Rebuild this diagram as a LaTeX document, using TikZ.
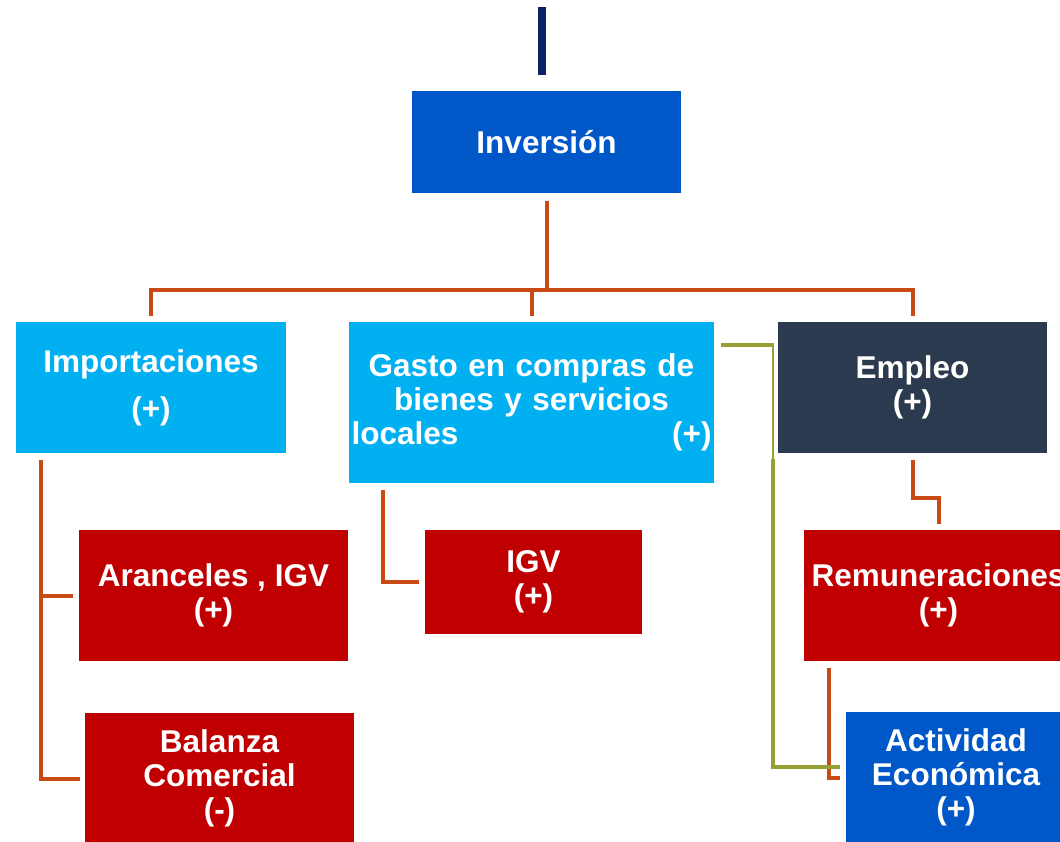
\documentclass[tikz,border=0pt]{standalone}
\usepackage{fontspec}
\setmainfont{Liberation Sans}
\usetikzlibrary{calc}
\definecolor{cBlue}{HTML}{0058C8}
\definecolor{cCyan}{HTML}{00B0F0}
\definecolor{cDark}{HTML}{2C3A4F}
\definecolor{cRed}{HTML}{C00000}
\definecolor{cOrange}{HTML}{C84B16}
\definecolor{cOlive}{HTML}{98A035}
\definecolor{cNavy}{HTML}{0A2265}
\begin{document}
\begin{tikzpicture}[x=1pt,y=-1pt,
  box/.style={draw=none,inner sep=2pt,text=white,align=center,
    font=\fontsize{31.5}{34}\selectfont\bfseries},
  orl/.style={draw=cOrange,line width=4pt,line join=miter},
  oll/.style={draw=cOlive,line width=4pt,line join=miter},
  olthin/.style={draw=cOlive,line width=1.5pt}]
\useasboundingbox (0,0) rectangle (1060,841);
\clip (0,0) rectangle (1060,841);
\fill[white] (0,0) rectangle (1060,841);

% boxes
\node[box,fill=cBlue,minimum width=269pt,minimum height=102pt] (inv) at (546.5,142) {Inversión};
\node[box,fill=cCyan,minimum width=270pt,minimum height=131pt] (imp) at (151,387.5) {\raisebox{-3pt}{Importaciones}\\[13pt]\raisebox{-3pt}{(+)}};
\node[box,fill=cCyan,minimum width=365pt,minimum height=161pt,text width=360pt,inner sep=0pt] (gas) at (531.5,402.5)
  {Gasto en compras de\\ bienes y servicios\\ \makebox[360pt]{locales\hfill(+)}};
\node[box,fill=cDark,minimum width=269pt,minimum height=131pt] (emp) at (912.5,387.5) {Empleo\\(+)};
\node[box,fill=cRed,minimum width=269pt,minimum height=131pt] (ara) at (213.5,595.5) {Aranceles , IGV\\(+)};
\node[box,fill=cRed,minimum width=217pt,minimum height=104pt] (igv) at (533.5,582) {IGV\\(+)};
\node[box,fill=cRed,minimum width=269pt,minimum height=131pt] (rem) at (938.5,595.5) {Remuneraciones\\(+)};
\node[box,fill=cRed,minimum width=269pt,minimum height=131pt] (bal) at (219.5,778.5) {Balanza\\Comercial\\(-)};
\node[box,fill=cBlue,minimum width=220pt,minimum height=131pt] (act) at (956,777.5) {Actividad\\Económica\\(+)};

% top navy line
\coordinate (t0) at (542,7);
\coordinate (t1) at (542,75);
\draw[cNavy,line width=8pt] (t0) -- (t1);

% tree from Inversión
\coordinate (bus) at (0,290);
\draw[orl] ($(inv.south)+(0,8)$) -- (inv.south |- bus);
\draw[orl] ($(imp.north |- bus)+(-2,0)$) -- ($(emp.north |- bus)+(2,0)$);
\draw[orl] (imp.north |- bus) -- ($(imp.north)+(0,-6)$);
\draw[orl] (gas.north |- bus) -- ($(gas.north)+(0,-6)$);
\draw[orl] (emp.north |- bus) -- ($(emp.north)+(0,-6)$);

% Importaciones -> Aranceles, Balanza
\coordinate (lx) at (41,460);
\draw[orl] (lx) |- ($(bal.west)+(-5,0)$);
\draw[orl] (lx |- ara.west) -- ($(ara.west)+(-6,0)$);

% Gasto -> IGV
\coordinate (gx) at (383,490);
\draw[orl] (gx) |- ($(igv.west)+(-6,0)$);

% Empleo -> Remuneraciones
\draw[orl] ($(emp.south)+(0,7)$) -- ++(0,38) -| ($(rem.north)+(0,-6)$);

% Remuneraciones -> Actividad
\coordinate (rx) at (829,668);
\draw[orl] (rx) |- ($(act.west)+(-6,0)$);

% Gasto -> Actividad (olive)
\coordinate (o0) at (721,345);
\coordinate (o1) at (773,345);
\coordinate (o2) at (773,459);
\draw[oll] (o0) -- ($(o1)+(1,0)$);
\draw[olthin] (o1) -- (o2);
\draw[oll] (o2) |- ($(act.west)+(-6,-11)$);
\end{tikzpicture}
\end{document}
